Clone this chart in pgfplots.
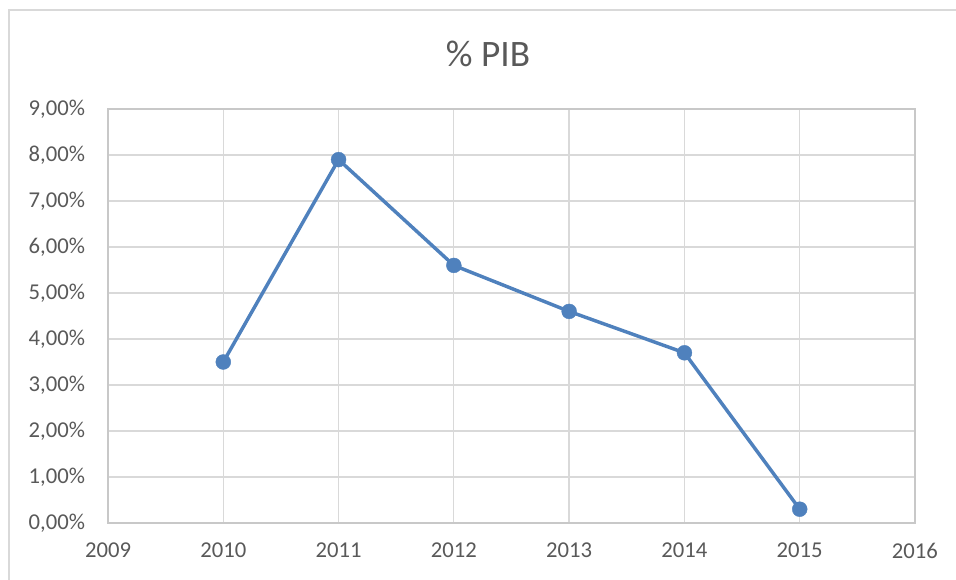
\documentclass[border=0pt]{standalone}
\usepackage{pgfplots}
\pgfplotsset{compat=1.18}
\usepackage{fontspec}
\setmainfont{Carlito}
\definecolor{txt}{HTML}{595959}
\definecolor{gridc}{HTML}{D9D9D9}
\definecolor{axc}{HTML}{C8C8C8}
\definecolor{linec}{HTML}{4F81BD}
\begin{document}
\begin{tikzpicture}
\path[use as bounding box] (0,0) rectangle (717pt,435pt);
\draw[gridc, line width=1.2pt] (6.75pt,-5pt) -- (6.75pt,427.5pt) -- (725pt,427.5pt);
\node[txt, font=\fontsize{28}{32}\selectfont] at (366pt,394.5pt) {\% PIB};
\begin{axis}[
  scale only axis,
  width=605.25pt, height=310.5pt,
  at={(81pt,42.75pt)}, anchor=south west,
  xmin=2009, xmax=2016, ymin=0, ymax=9,
  xtick={2009,...,2016},
  xticklabels={2009,2010,2011,2012,2013,2014,2015,2016},
  ytick={0,1,...,9},
  yticklabels={{0,00\%},{1,00\%},{2,00\%},{3,00\%},{4,00\%},{5,00\%},{6,00\%},{7,00\%},{8,00\%},{9,00\%}},
  major tick length=0pt,
  grid=major,
  grid style={gridc, line width=1pt},
  axis line style={axc, line width=1pt},
  tick label style={txt, font=\fontsize{17}{20}\selectfont},
  yticklabel style={anchor=east, inner sep=0pt, xshift=-17pt},
  xticklabel style={anchor=north, inner sep=0pt, yshift=-15pt},
  clip=false,
]
\addplot[linec, line width=2.6pt, mark=*, mark size=5.6pt, mark options={fill=linec, draw=linec, line width=0.3pt}]
coordinates {(2010,3.5) (2011,7.9) (2012,5.6) (2013,4.6) (2014,3.7) (2015,0.3)};
\end{axis}
\end{tikzpicture}
\end{document}
